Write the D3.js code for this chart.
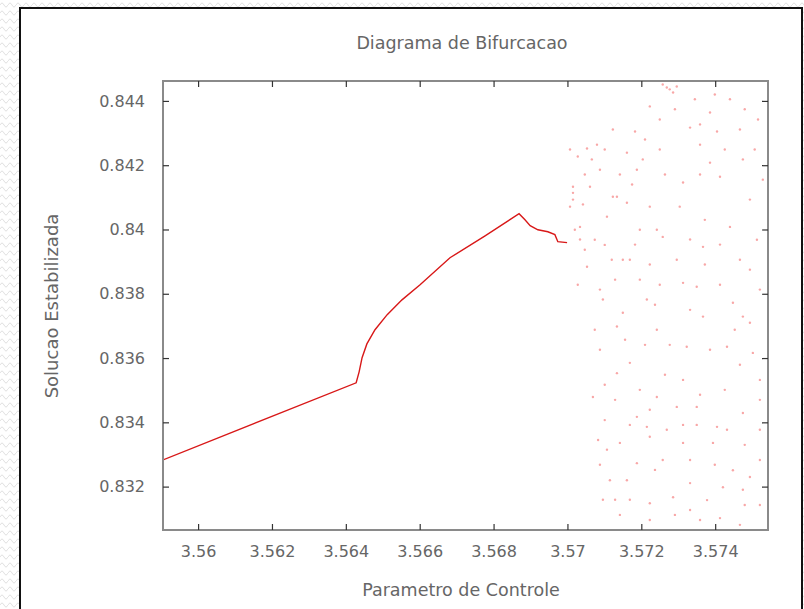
<!DOCTYPE html>
<html>
<head>
<meta charset="utf-8">
<script src="https://cdn.jsdelivr.net/npm/d3@7"></script>
<style>
  body { margin: 0; background: #fff; }
  text { font-family: "DejaVu Sans", sans-serif; fill: #666; }
</style>
</head>
<body>
<div id="viz"></div>
<script>
// stable branch (parametro, solucao)
const lineR = [3.55905, 3.56428, 3.56436, 3.56444, 3.56457, 3.56479, 3.56512, 3.56552, 3.56601, 3.56682, 3.56777, 3.56869, 3.56885, 3.56899, 3.56920, 3.56947, 3.56966, 3.56974, 3.56999];
const lineX = [0.83283, 0.83523, 0.83557, 0.83601, 0.83644, 0.83688, 0.83735, 0.83781, 0.83828, 0.83912, 0.83980, 0.84049, 0.84030, 0.84012, 0.83999, 0.83993, 0.83984, 0.83962, 0.83959];

// chaotic region points
const chaosR = [3.57258, 3.57269, 3.57277, 3.57286, 3.57296, 3.57053, 3.57080, 3.57028, 3.57007, 3.57123,
  3.57183, 3.57223, 3.57386, 3.57332, 3.57405, 3.57015, 3.57015, 3.57015, 3.57007, 3.57161,
  3.57107, 3.57123, 3.57223, 3.57304, 3.57386, 3.57313, 3.57413, 3.57475, 3.57494, 3.57242,
  3.57440, 3.57367, 3.57053, 3.57150, 3.57467, 3.57204, 3.57161, 3.57188, 3.57061, 3.57034,
  3.57101, 3.57074, 3.57134, 3.57258, 3.57169, 3.57088, 3.57196, 3.57096, 3.57150, 3.57215,
  3.57313, 3.57350, 3.57448, 3.57134, 3.57242, 3.57367, 3.57475, 3.57323, 3.57169, 3.57134,
  3.57196, 3.57242, 3.57313, 3.57069, 3.57223, 3.57296, 3.57350, 3.57188, 3.57215, 3.57269,
  3.57313, 3.57350, 3.57405, 3.57432, 3.57475, 3.57142, 3.57223, 3.57313, 3.57394, 3.57107,
  3.57258, 3.57188, 3.57448, 3.57115, 3.57161, 3.57332, 3.57421, 3.57494, 3.57286, 3.57378,
  3.57223, 3.57475, 3.57494, 3.57432, 3.57502, 3.57142, 3.57223, 3.57332, 3.57413, 3.57467,
  3.57440, 3.57516, 3.57359, 3.57250, 3.57088, 3.57047, 3.57529, 3.57513, 3.57521, 3.57372,
  3.57296, 3.57521, 3.57521, 3.57088, 3.57101, 3.57096, 3.57521,
  3.57020, 3.57042, 3.57066, 3.57101, 3.57142, 3.57175, 3.57210, 3.57250, 3.57291, 3.57345,
  3.57399, 3.57480, 3.57507, 3.57426, 3.57359, 3.57264, 3.57196, 3.57129, 3.57250, 3.57413,
  3.57494, 3.57372, 3.57332, 3.57277, 3.57210, 3.57386, 3.57467, 3.57521, 3.57426, 3.57359,
  3.57129, 3.57101, 3.57264, 3.57480, 3.57169, 3.57521, 3.57088, 3.57332, 3.57399, 3.57237,
  3.57480, 3.57169, 3.57359, 3.57291, 3.57129, 3.57453, 3.57237, 3.57156, 3.57120, 3.57183,
  3.57332, 3.57413, 3.57047, 3.57028, 3.57074, 3.57083, 3.57034, 3.57223, 3.57359, 3.57467];
const chaosX = [0.84451, 0.84442, 0.84436, 0.84426, 0.84445, 0.84252, 0.84264, 0.84227, 0.84249, 0.84311,
  0.84305, 0.84383, 0.84364, 0.84317, 0.84305, 0.84133, 0.84114, 0.84093, 0.84071, 0.84083,
  0.84040, 0.84102, 0.84071, 0.84071, 0.84208, 0.84146, 0.84164, 0.84218, 0.84093, 0.83999,
  0.84008, 0.83946, 0.83884, 0.83906, 0.83906, 0.84218, 0.84239, 0.84186, 0.84133, 0.84008,
  0.83952, 0.83968, 0.84102, 0.83977, 0.83906, 0.83813, 0.83844, 0.83782, 0.83741, 0.83782,
  0.83834, 0.83822, 0.83772, 0.83698, 0.83688, 0.83729, 0.83729, 0.83635, 0.83585, 0.83553,
  0.83501, 0.83479, 0.83532, 0.83479, 0.83439, 0.83448, 0.83448, 0.83417, 0.83386, 0.83377,
  0.83392, 0.83392, 0.83386, 0.83377, 0.83429, 0.83336, 0.83355, 0.83336, 0.83336, 0.83315,
  0.83283, 0.83273, 0.83251, 0.83220, 0.83220, 0.83211, 0.83198, 0.83230, 0.83167, 0.83158,
  0.83148, 0.83190, 0.83710, 0.83635, 0.83616, 0.83112, 0.83096, 0.83127, 0.83102, 0.83081,
  0.84405, 0.84342, 0.84264, 0.84249, 0.84186, 0.84171, 0.84155, 0.83968, 0.83813, 0.84030,
  0.83906, 0.83470, 0.83283, 0.83626, 0.83407, 0.83159, 0.83143,
  0.83999, 0.84078, 0.84218, 0.84249, 0.84171, 0.84140, 0.84280, 0.84342, 0.84374, 0.84405,
  0.84420, 0.84374, 0.84249, 0.84249, 0.84171, 0.84171, 0.83999, 0.83844, 0.83828, 0.83828,
  0.83875, 0.83891, 0.83750, 0.83641, 0.83641, 0.83626, 0.83579, 0.83532, 0.83501, 0.83486,
  0.83470, 0.83517, 0.83548, 0.83330, 0.83392, 0.83377, 0.83268, 0.83283, 0.83268, 0.83252,
  0.83143, 0.83159, 0.83096, 0.83112, 0.83159, 0.83688, 0.83766, 0.83657, 0.83906, 0.83953,
  0.83969, 0.83953, 0.83937, 0.83828, 0.83688, 0.83345, 0.83969, 0.83891, 0.84327, 0.84311];

const xTicks = [3.56, 3.562, 3.564, 3.566, 3.568, 3.57, 3.572, 3.574];
const xTickLabels = ["3.56", "3.562", "3.564", "3.566", "3.568", "3.57", "3.572", "3.574"];
const yTicks = [0.832, 0.834, 0.836, 0.838, 0.84, 0.842, 0.844];
const yTickLabels = ["0.832", "0.834", "0.836", "0.838", "0.84", "0.842", "0.844"];

const width = 804;
const height = 609;
const plotLeft = 163, plotRight = 768, plotTop = 81, plotBottom = 530;

const svg = d3.select('#viz').append('svg')
    .attr('width', width)
    .attr('height', height);

// wavy page background
const defs = svg.append('defs');
const pat = defs.append('pattern')
    .attr('id', 'waves')
    .attr('width', 8)
    .attr('height', 8)
    .attr('patternUnits', 'userSpaceOnUse');
pat.append('path')
    .attr('d', 'M0 5 Q2 1 4 5 T8 5')
    .attr('fill', 'none')
    .attr('stroke', '#e0e0e0')
    .attr('stroke-width', 1);
svg.append('rect').attr('width', width).attr('height', height).attr('fill', 'url(#waves)');

svg.append('rect')
    .attr('x', 20).attr('y', 8)
    .attr('width', 782).attr('height', 640)
    .attr('fill', '#fff')
    .attr('stroke', '#111')
    .attr('stroke-width', 2);

const x = d3.scaleLinear().domain([3.55905, 3.57543]).range([plotLeft, plotRight]);
const y = d3.scaleLinear().domain([0.83065, 0.84462]).range([plotBottom, plotTop]);

const clip = defs.append('clipPath').attr('id', 'plotclip');
clip.append('rect')
    .attr('x', plotLeft).attr('y', plotTop)
    .attr('width', plotRight - plotLeft).attr('height', plotBottom - plotTop);

const plot = svg.append('g').attr('clip-path', 'url(#plotclip)');

plot.selectAll('circle')
    .data(chaosR.map((r, i) => [r, chaosX[i]]))
    .enter()
    .append('circle')
    .attr('cx', d => x(d[0]))
    .attr('cy', d => y(d[1]))
    .attr('r', 1.2)
    .attr('fill', '#e22')
    .attr('opacity', 0.4);

const line = d3.line().x(d => x(d[0])).y(d => y(d[1]));
plot.append('path')
    .datum(lineR.map((r, i) => [r, lineX[i]]))
    .attr('d', line)
    .attr('fill', 'none')
    .attr('stroke', '#d81818')
    .attr('stroke-width', 1.4);

// border
svg.append('rect')
    .attr('x', plotLeft).attr('y', plotTop)
    .attr('width', plotRight - plotLeft).attr('height', plotBottom - plotTop)
    .attr('fill', 'none')
    .attr('stroke', '#8a8a8a')
    .attr('stroke-width', 2);

function styleAxis(g) {
    g.select('.domain').remove();
    g.selectAll('.tick line').attr('stroke', '#333').attr('stroke-width', 1.2);
    g.selectAll('.tick text').style('font-size', '16px').attr('fill', '#666');
}

svg.append('g')
    .attr('transform', `translate(0,${plotBottom})`)
    .call(d3.axisBottom(x).tickValues(xTicks).tickFormat((d, i) => xTickLabels[i]).tickSize(-6).tickPadding(16))
    .call(styleAxis);
svg.append('g')
    .attr('transform', `translate(0,${plotTop})`)
    .call(d3.axisTop(x).tickValues(xTicks).tickFormat('').tickSize(-6))
    .call(styleAxis);
svg.append('g')
    .attr('transform', `translate(${plotLeft},0)`)
    .call(d3.axisLeft(y).tickValues(yTicks).tickFormat((d, i) => yTickLabels[i]).tickSize(-6).tickPadding(18))
    .call(styleAxis);
svg.append('g')
    .attr('transform', `translate(${plotRight},0)`)
    .call(d3.axisRight(y).tickValues(yTicks).tickFormat('').tickSize(-6))
    .call(styleAxis);

svg.append('text')
    .attr('x', 462).attr('y', 49)
    .attr('text-anchor', 'middle')
    .style('font-size', '17.5px')
    .text('Diagrama de Bifurcacao');

svg.append('text')
    .attr('x', 461).attr('y', 596)
    .attr('text-anchor', 'middle')
    .style('font-size', '17.5px')
    .text('Parametro de Controle');

svg.append('text')
    .attr('transform', 'translate(58,306) rotate(-90)')
    .attr('text-anchor', 'middle')
    .style('font-size', '18px')
    .text('Solucao Estabilizada');
</script>
</body>
</html>
